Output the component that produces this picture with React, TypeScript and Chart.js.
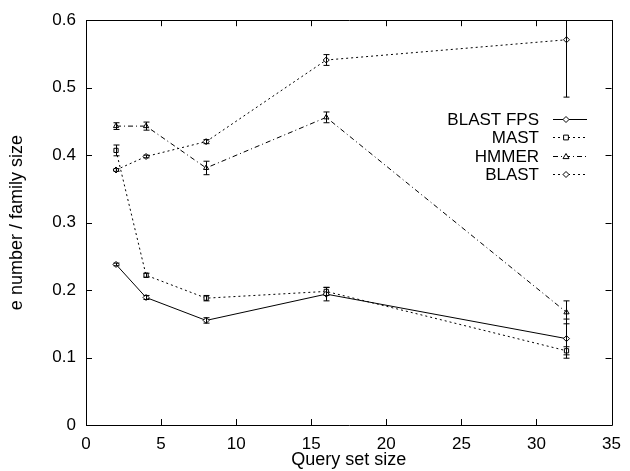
import React, { useEffect, useRef } from "react";
import { Chart, registerables } from "chart.js";

Chart.register(...registerables);

const querySizes = [2, 4, 8, 16, 32];
const seriesLabels = ["BLAST FPS", "MAST", "HMMER", "BLAST"];
const blastFps = [0.238, 0.189, 0.155, 0.194, 0.128];
const blastFpsErr = [0.002, 0.003, 0.004, 0.01, 0.029];
const mast = [0.407, 0.222, 0.188, 0.198, 0.11];
const mastErr = [0.008, 0.003, 0.004, 0.006, 0.006];
const hmmer = [0.443, 0.443, 0.381, 0.456, 0.167];
const hmmerErr = [0.005, 0.006, 0.01, 0.008, 0.017];
const blast = [0.378, 0.398, 0.42, 0.541, 0.571];
const blastErr = [0.002, 0.002, 0.003, 0.008, 0.085];
const xTicks = [0, 5, 10, 15, 20, 25, 30, 35];
const yTicks = [0, 0.1, 0.2, 0.3, 0.4, 0.5, 0.6];

const FONT = "'Liberation Sans', Arial, sans-serif";

const values = [blastFps, mast, hmmer, blast];
const errors = [blastFpsErr, mastErr, hmmerErr, blastErr];
const dashes = [[], [2, 3], [5, 3, 1, 3], [2, 3]];
const pstyles = ["rectRot", "rect", "triangle", "rectRot"];

function marker(ctx: CanvasRenderingContext2D, style: string, x: number, y: number, r: number) {
  ctx.beginPath();
  if (style === "rectRot") {
    ctx.moveTo(x, y - r);
    ctx.lineTo(x + r, y);
    ctx.lineTo(x, y + r);
    ctx.lineTo(x - r, y);
    ctx.closePath();
  } else if (style === "rect") {
    ctx.rect(x - r * 0.8, y - r * 0.8, r * 1.6, r * 1.6);
  } else {
    ctx.moveTo(x, y - r);
    ctx.lineTo(x + r, y + r * 0.7);
    ctx.lineTo(x - r, y + r * 0.7);
    ctx.closePath();
  }
  ctx.fillStyle = "#fff";
  ctx.fill();
  ctx.stroke();
}

const framePlugin = {
  id: "frame",
  afterDatasetsDraw(chart: any) {
    const ctx = chart.ctx;
    const { left, right, top, bottom } = chart.chartArea;
    const xs = chart.scales.x;
    const ys = chart.scales.y;
    ctx.save();
    ctx.beginPath();
    ctx.rect(left, top, right - left, bottom - top);
    ctx.clip();
    ctx.strokeStyle = "#000";
    ctx.lineWidth = 1;
    ctx.setLineDash([]);
    values.forEach((vals, si) => {
      vals.forEach((v, i) => {
        const e = errors[si][i];
        const px = Math.round(xs.getPixelForValue(querySizes[i])) + 0.5;
        const y1 = ys.getPixelForValue(v - e);
        const y2 = ys.getPixelForValue(v + e);
        ctx.beginPath();
        ctx.moveTo(px, y1);
        ctx.lineTo(px, y2);
        ctx.moveTo(px - 3, y1);
        ctx.lineTo(px + 3, y1);
        ctx.moveTo(px - 3, y2);
        ctx.lineTo(px + 3, y2);
        ctx.stroke();
      });
    });
    ctx.restore();
    ctx.save();
    ctx.strokeStyle = "#000";
    ctx.lineWidth = 1;
    ctx.setLineDash([]);
    ctx.beginPath();
    ctx.rect(Math.round(left) + 0.5, Math.round(top) + 0.5, Math.round(right - left), Math.round(bottom - top));
    ctx.stroke();
    const tl = 6;
    ctx.beginPath();
    xTicks.forEach((t) => {
      const px = Math.round(xs.getPixelForValue(t)) + 0.5;
      ctx.moveTo(px, bottom);
      ctx.lineTo(px, bottom - tl);
      ctx.moveTo(px, top);
      ctx.lineTo(px, top + tl);
    });
    yTicks.forEach((t) => {
      const py = Math.round(ys.getPixelForValue(t)) + 0.5;
      ctx.moveTo(left, py);
      ctx.lineTo(left + tl, py);
      ctx.moveTo(right, py);
      ctx.lineTo(right - tl, py);
    });
    ctx.stroke();
    const textRight = 539;
    const lineL = 553;
    const lineR = 587;
    const markX = 566;
    const rowY = [119, 137, 156, 174];
    ctx.font = `17px ${FONT}`;
    ctx.textAlign = "right";
    ctx.textBaseline = "middle";
    chart.data.datasets.forEach((ds: any, i: number) => {
      const y = rowY[i];
      ctx.fillStyle = "#000";
      ctx.fillText(ds.label, textRight, y + 1);
      ctx.setLineDash(dashes[i]);
      ctx.beginPath();
      ctx.moveTo(lineL, y + 0.5);
      ctx.lineTo(lineR, y + 0.5);
      ctx.stroke();
      ctx.setLineDash([]);
      marker(ctx, pstyles[i], markX, y + 0.5, 3);
    });
    ctx.restore();
  },
};

export default function App() {
  const ref = useRef<HTMLCanvasElement>(null);
  useEffect(() => {
    document.body.style.margin = "0";
    const datasets = seriesLabels.map((label, si) => ({
      label,
      data: querySizes.map((x, i) => ({ x, y: values[si][i] })),
      borderColor: "#000",
      backgroundColor: "#fff",
      borderWidth: 1,
      borderDash: dashes[si],
      pointStyle: pstyles[si],
      pointRadius: 3,
      pointBorderWidth: 1,
      pointBorderColor: "#000",
      pointBackgroundColor: "#fff",
      tension: 0,
    }));
    const chart = new Chart(ref.current!, {
      type: "line",
      data: { datasets },
      options: {
        animation: false,
        responsive: false,
        maintainAspectRatio: false,
        layout: { padding: { top: 16, right: 12, left: 0, bottom: 0 } },
        plugins: { legend: { display: false }, tooltip: { enabled: false } },
        scales: {
          x: {
            type: "linear",
            min: 0,
            max: 35,
            afterBuildTicks: (s: any) => {
              s.ticks = xTicks.map((v) => ({ value: v }));
            },
            afterFit: (s: any) => {
              s.height = 46;
            },
            grid: { display: false, drawTicks: false },
            border: { display: false },
            ticks: { color: "#000", font: { family: FONT, size: 17 }, padding: 9, maxRotation: 0 },
            title: {
              display: true,
              text: "Query set size",
              color: "#000",
              font: { family: FONT, size: 18 },
              padding: { top: 0, bottom: 0 },
            },
          },
          y: {
            type: "linear",
            min: 0,
            max: 0.6,
            afterBuildTicks: (s: any) => {
              s.ticks = yTicks.map((v) => ({ value: v }));
            },
            afterFit: (s: any) => {
              s.width = 86;
            },
            grid: { display: false, drawTicks: false },
            border: { display: false },
            ticks: { color: "#000", font: { family: FONT, size: 17 }, padding: 10, callback: (v: any) => String(Math.round(v * 10) / 10) },
            title: {
              display: true,
              text: "e number / family size",
              color: "#000",
              font: { family: FONT, size: 18 },
              padding: { top: 6, bottom: 0 },
            },
          },
        },
      },
      plugins: [framePlugin],
    });
    return () => chart.destroy();
  }, []);
  return (
    <div style={{ position: "absolute", left: 0, top: 0, width: 630, height: 471 }}>
      <canvas ref={ref} width={630} height={471} style={{ display: "block" }} />
    </div>
  );
}
